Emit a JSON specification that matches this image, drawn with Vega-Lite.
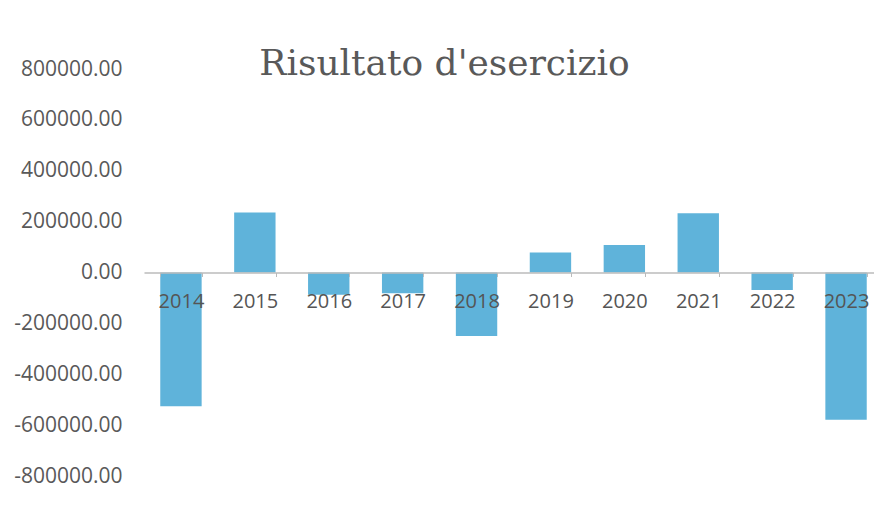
{
  "$schema": "https://vega.github.io/schema/vega-lite/v6.json",
  "autosize": {"type": "none"},
  "width": 739,
  "height": 407,
  "padding": {"left": 144, "top": 69, "right": 0, "bottom": 30},
  "background": "white",
  "title": {
    "text": "Risultato d'esercizio",
    "font": "DejaVu Serif",
    "fontSize": 36,
    "fontWeight": "normal",
    "color": "#595959",
    "anchor": "middle",
    "frame": "group",
    "dx": -69,
    "dy": 45,
    "offset": -8,
    "baseline": "alphabetic"
  },
  "data": {
    "values": [
      {"anno": "2014", "risultato": -526000},
      {"anno": "2015", "risultato": 236000},
      {"anno": "2016", "risultato": -87000},
      {"anno": "2017", "risultato": -82000},
      {"anno": "2018", "risultato": -250000},
      {"anno": "2019", "risultato": 79000},
      {"anno": "2020", "risultato": 108000},
      {"anno": "2021", "risultato": 233000},
      {"anno": "2022", "risultato": -69000},
      {"anno": "2023", "risultato": -579000}
    ]
  },
  "mark": {"type": "bar", "color": "#5fb3da"},
  "encoding": {
    "x": {
      "field": "anno",
      "type": "ordinal",
      "sort": null,
      "scale": {"paddingInner": 0.44, "paddingOuter": 0.22},
      "axis": {
        "title": null,
        "orient": "bottom",
        "offset": -203.5,
        "zindex": 1,
        "labelAngle": 0,
        "labelFont": "Open Sans",
        "labelFontSize": 20,
        "labelColor": "#555555",
        "labelPadding": 15,
        "domainColor": "#bbbbbb",
        "domainWidth": 1.5,
        "tickColor": "#bbbbbb",
        "tickSize": 4,
        "tickBand": "extent"
      }
    },
    "y": {
      "field": "risultato",
      "type": "quantitative",
      "scale": {"domain": [-800000, 800000], "nice": false},
      "axis": {
        "title": null,
        "values": [-800000, -600000, -400000, -200000, 0, 200000, 400000, 600000, 800000],
        "labelExpr": "replace(format(datum.value, '.2f'), '\u2212', '-')",
        "grid": false,
        "domain": false,
        "ticks": false,
        "labelFont": "Open Sans",
        "labelFontSize": 21,
        "labelColor": "#595959",
        "labelPadding": 22
      }
    }
  },
  "config": {"view": {"stroke": null}}
}
